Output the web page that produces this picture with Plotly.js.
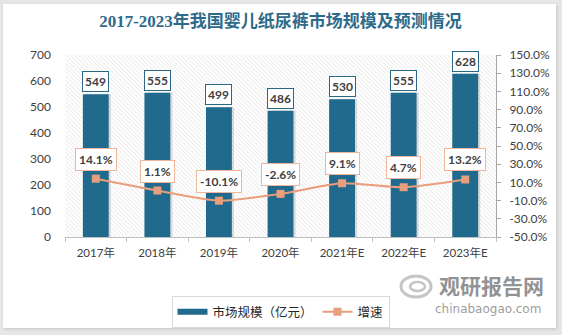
<!DOCTYPE html>
<html>
<head>
<meta charset="utf-8">
<script src="https://cdn.plot.ly/plotly-3.0.1.min.js"></script>
<style>
  html, body { margin: 0; padding: 0; width: 562px; height: 335px; background: #e6e6e6; overflow: hidden; }
  #card { position: absolute; left: 3px; top: 4px; width: 553px; height: 324px; background: #fff; box-shadow: 1px 1px 3px rgba(0,0,0,0.15); }
</style>
</head>
<body>
<div id="card"></div>
<script>
// ---- data ----
const categories = ['2017年', '2018年', '2019年', '2020年', '2021年E', '2022年E', '2023年E'];
const marketSize = [549, 555, 499, 486, 530, 555, 628];
const growthRate = [14.1, 1.1, -10.1, -2.6, 9.1, 4.7, 13.2];
const leftTicks = [0, 100, 200, 300, 400, 500, 600, 700];
const rightTicks = [-50, -30, -10, 10, 30, 50, 70, 90, 110, 130, 150];
const seriesNames = ['市场规模（亿元）', '增速'];
const chartTitle = '2017-2023年我国婴儿纸尿裤市场规模及预测情况';

// ---- layout geometry ----
const W = 553, H = 324;
const M = { l: 62, r: 60, t: 51, b: 91, autoexpand: false };
const PW = W - M.l - M.r, PH = H - M.t - M.b;
const px2x = px => (px - M.l) / PW;
const px2y = py => (H - M.b - py) / PH;

const BLUE = '#1f6a8d';
const ORANGE = '#eb9d7a';
const TXT = '#404040';
const LABEL_FONT = 'Lato, "Noto Sans CJK SC", sans-serif';
const BAR_W = 0.42;

// hatch background for plot area
const hatchSvg = "<svg xmlns='http://www.w3.org/2000/svg' width='" + PW + "' height='" + PH + "'>" +
  "<defs><pattern id='p' width='3' height='3' patternUnits='userSpaceOnUse' patternTransform='rotate(-45)'>" +
  "<line x1='0' y1='-1' x2='0' y2='4' stroke='#d6d6d6' stroke-width='0.9'/></pattern></defs>" +
  "<rect width='100%' height='100%' fill='url(#p)'/></svg>";
const hatchUri = 'data:image/svg+xml;charset=utf-8,' + encodeURIComponent(hatchSvg);

const traces = [
  { // legend swatch for the bar series (flat bar like the reference)
    type: 'scatter', mode: 'lines', name: seriesNames[0],
    x: [null], y: [null],
    line: { color: BLUE, width: 6 }, hoverinfo: 'skip'
  },
  { // soft shadow of bars
    type: 'bar', x: categories, y: marketSize,
    width: BAR_W, offset: -BAR_W / 2 + 0.035,
    marker: { color: 'rgba(0,0,0,0.13)' },
    showlegend: false, hoverinfo: 'skip'
  },
  {
    type: 'bar', name: seriesNames[0],
    x: categories, y: marketSize,
    width: BAR_W, offset: -BAR_W / 2,
    marker: { color: BLUE },
    showlegend: false
  },
  {
    type: 'scatter', mode: 'lines+markers', name: seriesNames[1],
    x: categories, y: growthRate, yaxis: 'y2',
    line: { color: ORANGE, width: 2, shape: 'spline', smoothing: 0.7 },
    marker: { symbol: 'square', size: 8, color: '#e89f7e' }
  }
];

const annotations = [];
categories.forEach((c, i) => {
  annotations.push({
    x: c, y: marketSize[i], xref: 'x', yref: 'y',
    text: String(marketSize[i]),
    showarrow: false, yanchor: 'bottom', yshift: 2,
    bgcolor: '#ffffff', bordercolor: '#2a6784', borderwidth: 1, borderpad: 2,
    font: { family: LABEL_FONT, size: 12, color: TXT, weight: 'bold' }
  });
  annotations.push({
    x: c, y: growthRate[i], xref: 'x', yref: 'y2',
    text: growthRate[i].toFixed(1) + '%',
    showarrow: false, yanchor: 'bottom', yshift: 8,
    bgcolor: '#ffffff', bordercolor: '#f0b69c', borderwidth: 1, borderpad: 3,
    font: { family: LABEL_FONT, size: 12, color: TXT, weight: 'bold' }
  });
});

// watermark
annotations.push({
  xref: 'paper', yref: 'paper', x: px2x(488), y: px2y(281), xanchor: 'center', yanchor: 'middle',
  text: '观研报告网', showarrow: false,
  font: { family: '"Noto Sans CJK SC", sans-serif', size: 21, color: 'rgba(110,110,110,0.75)', weight: 'bold' }
});
annotations.push({
  xref: 'paper', yref: 'paper', x: px2x(485), y: px2y(305), xanchor: 'center', yanchor: 'middle',
  text: 'chinabaogao.com', showarrow: false,
  font: { family: '"DejaVu Sans", sans-serif', size: 12, color: 'rgba(120,120,120,0.75)' }
});

const layout = {
  width: W, height: H,
  margin: M,
  paper_bgcolor: '#ffffff',
  plot_bgcolor: '#ffffff',
  showlegend: true,
  barmode: 'overlay',
  title: {
    text: chartTitle,
    x: 0.5, xref: 'paper', xanchor: 'center',
    y: 1 - 17 / H, yref: 'container', yanchor: 'middle',
    font: { family: '"Liberation Serif", "Noto Sans CJK SC", serif', size: 17, color: '#2e6a8a', weight: 'bold' }
  },
  xaxis: {
    type: 'category',
    range: [-0.5, categories.length - 0.5],
    showline: true, linecolor: '#bfbfbf', linewidth: 1,
    ticks: 'outside', tickson: 'boundaries', ticklen: 4, tickcolor: '#bfbfbf',
    tickfont: { family: LABEL_FONT, size: 11.5, color: TXT },
    ticklabelstandoff: 5,
    showgrid: false, zeroline: false, fixedrange: true
  },
  yaxis: {
    range: [0, 700], tickvals: leftTicks,
    showline: false, ticks: '', showgrid: false, zeroline: false,
    tickfont: { family: LABEL_FONT, size: 12, color: TXT },
    ticklabelstandoff: 13, fixedrange: true
  },
  yaxis2: {
    overlaying: 'y', side: 'right',
    range: [-50, 150], tickvals: rightTicks,
    ticktext: rightTicks.map(v => v.toFixed(1) + '%'),
    showline: true, linecolor: '#a6a6a6', linewidth: 1,
    ticks: 'outside', ticklen: 4, tickcolor: '#a6a6a6',
    showgrid: false, zeroline: false,
    tickfont: { family: LABEL_FONT, size: 12, color: TXT },
    ticklabelstandoff: 6, fixedrange: true
  },
  legend: {
    orientation: 'h',
    x: 0.5, xanchor: 'center',
    y: px2y(292), yanchor: 'top',
    bgcolor: '#ffffff', bordercolor: '#d9d9d9', borderwidth: 1,
    font: { family: '"Noto Sans CJK SC", sans-serif', size: 12.5, color: '#262626' },
    itemclick: false, itemdoubleclick: false
  },
  images: [{
    source: hatchUri, xref: 'paper', yref: 'paper',
    x: 0, y: 1, sizex: 1, sizey: 1, xanchor: 'left', yanchor: 'top',
    sizing: 'stretch', layer: 'below'
  }],
  shapes: [
    { type: 'circle', xref: 'paper', yref: 'paper',
      x0: px2x(398), x1: px2x(428), y0: px2y(272), y1: px2y(293),
      line: { color: 'rgba(150,150,150,0.55)', width: 3 } },
    { type: 'circle', xref: 'paper', yref: 'paper',
      x0: px2x(407), x1: px2x(422), y0: px2y(278), y1: px2y(287),
      line: { color: 'rgba(150,150,150,0.55)', width: 2.5 } }
  ],
  annotations: annotations
};

Plotly.newPlot('card', traces, layout, { displayModeBar: false, staticPlot: true });
</script>
</body>
</html>
